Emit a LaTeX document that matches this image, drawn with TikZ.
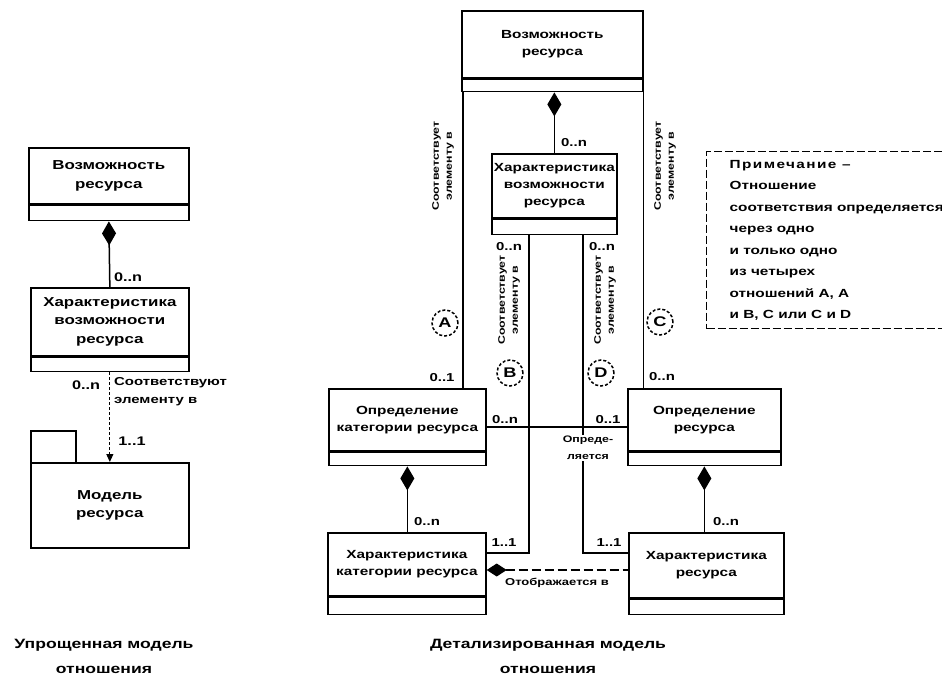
\documentclass[tikz,border=0pt]{standalone}
\usepackage{fontspec}
\setmainfont{Liberation Sans}[FakeStretch=1.3]
\newfontfamily\spacedfont{Liberation Sans}[FakeStretch=1.3, LetterSpace=12]
\usetikzlibrary{arrows.meta,calc}
\begin{document}
\begin{tikzpicture}[x=1pt,y=-1pt,
  every node/.style={font=\bfseries\fontsize{11.8}{17}\selectfont, inner sep=0pt},
  cls/.style={draw, line width=1.7pt, anchor=north west, align=center},
  bigcls/.style={cls, font=\bfseries\fontsize{13}{18.5}\selectfont},
  cmp/.style={draw, line width=1.7pt, anchor=north west},
  conn/.style={line width=1.5pt},
  comp/.style={line width=1.5pt, {Diamond[length=24pt,width=14pt]}-},
  lbl/.style={font=\bfseries\fontsize{11.5}{12}\selectfont},
  biglbl/.style={font=\bfseries\fontsize{12.5}{12}\selectfont},
  rot/.style={rotate=90, align=center, font=\bfseries\fontsize{9.5}{13}\selectfont},
  circ/.style={circle, draw, dash pattern=on 3pt off 2pt, line width=1.5pt, minimum size=26pt, font=\bfseries\fontsize{14}{14}\selectfont},
  captxt/.style={align=center, font=\bfseries\fontsize{13.5}{25}\selectfont}
]
\useasboundingbox (0,0) rectangle (942,676);

% ---------- left: simplified model ----------
\node[bigcls, minimum width=160pt, minimum height=56pt] (L1) at (28,147) {Возможность\\ресурса};
\node[cmp, minimum width=160pt, minimum height=15pt] (L1c) at (L1.south west) {};
\node[bigcls, minimum width=158pt, minimum height=68pt] (L2) at (30,287) {Характеристика\\возможности\\ресурса};
\node[cmp, minimum width=158pt, minimum height=14pt] (L2c) at (L2.south west) {};
\node[draw, line width=1.7pt, anchor=north west, minimum width=45pt, minimum height=32pt] (L3tab) at (30,430) {};
\node[bigcls, minimum width=158pt, minimum height=85pt] (L3) at (30,462) {Модель\\ресурса};

\draw[comp] (L1c.south) -- (L2.north);
\node[biglbl] (l1) at (128,277) {0..n};
\draw[line width=1pt, dash pattern=on 3pt off 2pt, -{Triangle[length=8pt,width=7pt]}] (L2c.south) -- (L3.north);
\node[biglbl] (l2) at (86,385) {0..n};
\node[lbl, anchor=north west, align=left, font=\bfseries\fontsize{11.5}{18}\selectfont] (l3) at (114,377) {Соответствуют\\элементу в};
\node[biglbl] (l4) at (132,441) {1..1};

\node[captxt] (cap1) at (104,656) {Упрощенная модель\\отношения};

% ---------- right: detailed model ----------
\node[cls, minimum width=181pt, minimum height=67pt] (R1) at (461,10) {Возможность\\ресурса};
\node[cmp, minimum width=181pt, minimum height=12pt] (R1c) at (R1.south west) {};
\node[cls, minimum width=125pt, minimum height=64pt] (R2) at (491,153) {Характеристика\\возможности\\ресурса};
\node[cmp, minimum width=125pt, minimum height=15pt] (R2c) at (R2.south west) {};
\node[cls, minimum width=157pt, minimum height=62pt] (R3) at (328,388) {Определение\\категории ресурса};
\node[cmp, minimum width=157pt, minimum height=13pt] (R3c) at (R3.south west) {};
\node[cls, minimum width=153pt, minimum height=62pt] (R4) at (627,388) {Определение\\ресурса};
\node[cmp, minimum width=153pt, minimum height=13pt] (R4c) at (R4.south west) {};
\node[cls, minimum width=158pt, minimum height=63pt] (R5) at (327,532) {Характеристика\\категории ресурса};
\node[cmp, minimum width=158pt, minimum height=17pt] (R5c) at (R5.south west) {};
\node[cls, minimum width=155pt, minimum height=65pt] (R6) at (628,532) {Характеристика\\ресурса};
\node[cmp, minimum width=155pt, minimum height=15pt] (R6c) at (R6.south west) {};

% compositions
\draw[comp] (R2.north |- R1c.south) -- (R2.north);
\node[lbl] (r1) at (574,143) {0..n};
\draw[comp] (R3c.south) -- (R3c.south |- R5.north);
\node[lbl] (r2) at (427,522) {0..n};
\draw[comp] (R4c.south) -- (R4c.south |- R6.north);
\node[lbl] (r3) at (726,522) {0..n};

% A
\coordinate (Atop) at ($(R1c.south west)+(2,0)$);
\draw[conn] (Atop) -- (Atop |- R3.north);
\node[rot] (ta) at (443,166) {Соответствует\\элементу в};
\node[circ] (cA) at (445,323) {A};
\node[lbl] (r4) at (442,378) {0..1};

% C
\draw[conn] (R1c.south east) -- (R1c.south east |- R4.north);
\node[rot] (tc) at (665,166) {Соответствует\\элементу в};
\node[circ] (cC) at (660,322) {C};
\node[lbl] (r5) at (662,377) {0..n};

% B
\coordinate (Btop) at ($(R2c.south west)+(38,0)$);
\coordinate (Bend) at ($(R5.north east)+(0,21)$);
\draw[conn] (Btop) |- (Bend);
\node[lbl] (r6) at (509,247) {0..n};
\node[rot] (tb) at (509,300) {Соответствует\\элементу в};
\node[circ] (cB) at (510,373) {B};
\node[lbl] (r7) at (504,543) {1..1};

% D
\coordinate (Dtop) at ($(R2c.south west)+(92,0)$);
\coordinate (Dend) at ($(R6.north west)+(0,21)$);
\draw[conn] (Dtop) |- (Dend);
\node[lbl] (r8) at (602,247) {0..n};
\node[rot] (td) at (605,300) {Соответствует\\элементу в};
\node[circ] (cD) at (601,373) {D};
\node[lbl] (r9) at (609,543) {1..1};

% defined by
\coordinate (Hl) at ($(R3.north east)+(0,39)$);
\draw[conn] (Hl) -- (Hl -| R4.west);
\node[lbl] (r10) at (505,420) {0..n};
\node[lbl] (r11) at (608,420) {0..1};
\node[lbl, fill=white, inner sep=1pt, align=center, font=\bfseries\fontsize{9.5}{17}\selectfont] (def) at (588,448) {Опреде-\\ляется};

% mapped to
\coordinate (Ml) at ($(R5.north east)+(0,38)$);
\draw[line width=1.3pt, dash pattern=on 9pt off 4pt, {Diamond[length=20pt,width=13pt]}-] (Ml) -- (Ml -| R6.west);
\node[lbl, font=\bfseries\fontsize{10}{12}\selectfont] (map) at (557,583) {Отображается в};

% note
\node[draw, dash pattern=on 8pt off 3pt, line width=1.4pt, anchor=north west, align=left, inner xsep=6pt, inner ysep=5pt,
      minimum width=260pt, minimum height=177pt,
      font=\bfseries\fontsize{11.8}{21.5}\selectfont] (note) at (706,151)
  {{\spacedfont Примечание –}\\Отношение\\соответствия определяется\\через одно\\и только одно\\из четырех\\отношений A, A\\и B, C или C и D};

\node[captxt] (cap2) at (548,656) {Детализированная модель\\отношения};
\end{tikzpicture}
\end{document}
